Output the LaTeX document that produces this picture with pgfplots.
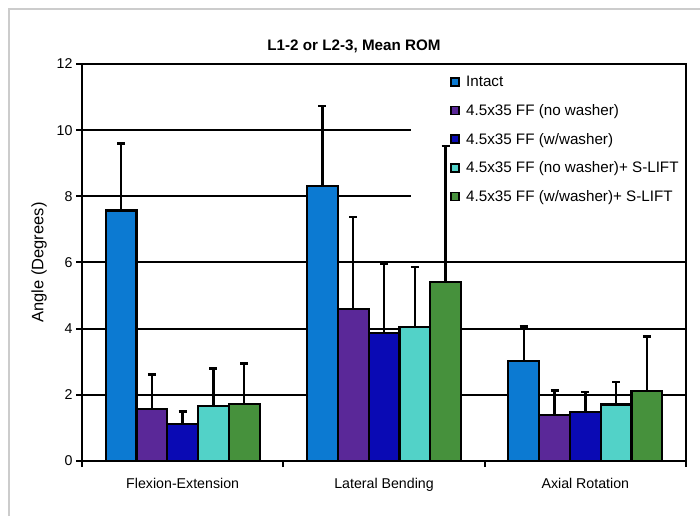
\documentclass[border=0pt]{standalone}
\usepackage{pgfplots}
\usepackage{pgfplotstable}
\pgfplotsset{compat=1.18}
\usepackage{fontspec}
\setmainfont{Liberation Sans}
\definecolor{cIntact}{RGB}{12,122,210}
\definecolor{cPurple}{RGB}{90,40,152}
\definecolor{cBlue}{RGB}{10,10,180}
\definecolor{cCyan}{RGB}{82,210,200}
\definecolor{cGreen}{RGB}{70,145,60}
\pgfplotsset{
  sqlegend/.style={legend image code/.code={\draw[##1,draw=black,line width=1.6pt] (0pt,-4pt) rectangle (8pt,4pt); \path (12pt,0pt);}},
  errs/.style={draw=black, line width=2.2pt,
    error bars/.cd, y dir=plus, y explicit,
    error bar style={line width=2.4pt,black},
    error mark=|, error mark options={line width=2.6pt,mark size=4pt,black}},
}
\pgfplotstableread{
x y e
0 7.57 2.03
1 8.32 2.41
2 3.03 1.03
}\intact
\pgfplotstableread{
x y e
0 1.57 1.05
1 4.59 2.78
2 1.38 0.75
}\nowasher
\pgfplotstableread{
x y e
0 1.11 0.38
1 3.86 2.09
2 1.49 0.59
}\wwasher
\pgfplotstableread{
x y e
0 1.66 1.14
1 4.05 1.81
2 1.71 0.68
}\nowashersl
\pgfplotstableread{
x y e
0 1.73 1.21
1 5.41 4.11
2 2.12 1.64
}\wwashersl
\begin{document}
\begin{tikzpicture}
\path[use as bounding box] (0,0) rectangle (700pt,516pt);
\draw[gray!40, line width=1.5pt] (9pt,0) -- (9pt,507pt) -- (700pt,507pt);
\begin{axis}[
  at={(82pt,55pt)}, anchor=south west, scale only axis,
  width=604pt, height=397pt,
  xmin=-0.5, xmax=2.5, ymin=0, ymax=12,
  ybar=0pt, bar width=0.153,
  xtick={0,1,2},
  xticklabels={Flexion-Extension,Lateral Bending,Axial Rotation},
  major x tick style={draw=none},
  extra x ticks={-0.5,0.5,1.5,2.5},
  extra x tick labels={},
  extra x tick style={grid=none, major tick length=6pt,
     major x tick style={draw=black,line width=2pt}},
  ytick={0,2,...,12},
  ymajorgrids, grid style={black, line width=2pt},
  tick align=outside, tick pos=left,
  major tick length=6pt,
  major y tick style={line width=2pt, black},
  axis line style={line width=2.5pt, black},
  tick label style={font=\fontsize{14.2}{16}\selectfont},
  /pgf/number format/assume math mode=true,
  xticklabel style={yshift=-8pt},
  ylabel={Angle (Degrees)},
  ylabel style={at={(axis description cs:0,0.5)}, anchor=center, yshift=43pt, font=\fontsize{16.5}{18}\selectfont},
  title={L1-2 or L2-3, Mean ROM},
  title style={at={(0.5,1)}, anchor=center, xshift=-30pt, yshift=12pt, font=\fontsize{15.2}{18}\selectfont\bfseries},
  legend style={at={(rel axis cs:0.606,0.98)}, anchor=north west, draw=none, fill=none,
    font=\fontsize{15.2}{17}\selectfont, row sep=12.2pt, inner sep=2pt},
  legend cell align=left,
]
\fill[white] (rel axis cs:0.545,0.58) rectangle ([xshift=-1.5pt,yshift=-1.5pt]rel axis cs:1,1);
\addplot[fill=cIntact, sqlegend, errs] table[x=x,y=y,y error=e]{\intact};
\addplot[fill=cPurple, sqlegend, errs] table[x=x,y=y,y error=e]{\nowasher};
\addplot[fill=cBlue, sqlegend, errs] table[x=x,y=y,y error=e]{\wwasher};
\addplot[fill=cCyan, sqlegend, errs] table[x=x,y=y,y error=e]{\nowashersl};
\addplot[fill=cGreen, sqlegend, errs] table[x=x,y=y,y error=e]{\wwashersl};
\legend{Intact,4.5x35 FF (no washer),4.5x35 FF (w/washer),4.5x35 FF (no washer)+ S-LIFT,4.5x35 FF (w/washer)+ S-LIFT}
\end{axis}
\end{tikzpicture}
\end{document}
